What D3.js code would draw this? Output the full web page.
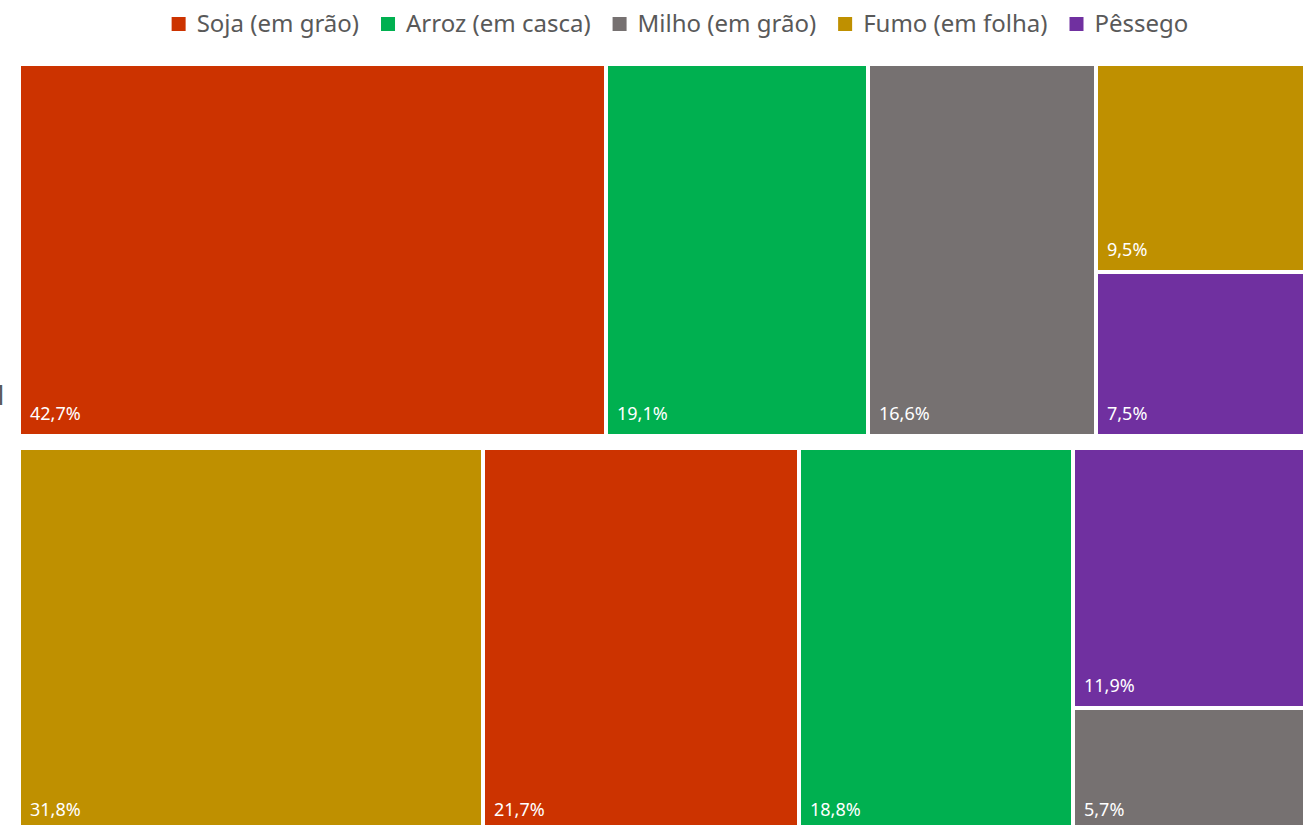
<!DOCTYPE html>
<html>
<head>
<meta charset="utf-8">
<script src="https://cdn.jsdelivr.net/npm/d3@7"></script>
<style>
  body { margin: 0; background: #fff; overflow: hidden; }
  svg { display: block; font-family: "Noto Sans", sans-serif; }
</style>
</head>
<body>
<div id="chart"></div>
<script>
// crops (legend order) and colours
const crops = ["Soja (em grão)", "Arroz (em casca)", "Milho (em grão)", "Fumo (em folha)", "Pêssego"];
const cropColors = ["#CC3300", "#00B050", "#767171", "#BF9000", "#7030A0"];

// the two groups, share of each crop (%)
const groups = ["2021", "2010"];
const groupTop = [42.7, 19.1, 16.6, 9.5, 7.5];
const groupBottom = [21.7, 18.8, 5.7, 31.8, 11.9];

const width = 1303, height = 825;

const svg = d3.select("#chart").append("svg")
    .attr("width", width)
    .attr("height", height);

const color = d3.scaleOrdinal().domain(crops).range(cropColors);
const fmt = v => d3.format(".1f")(v).replace(".", ",") + "%";

// each group gets its own band, laid out as a squarified treemap
const bands = [
    { name: groups[0], values: groupTop, x0: 21, y0: 66, x1: 1328, y1: 434 },
    { name: groups[1], values: groupBottom, x0: 21, y0: 450, x1: 1328, y1: 830 }
];

bands.forEach(band => {
    const root = d3.hierarchy({ children: crops.map((c, i) => ({ name: c, value: band.values[i] })) })
        .sum(d => d.value || 0)
        .sort((a, b) => b.value - a.value);

    d3.treemap()
        .tile(d3.treemapSquarify.ratio(1))
        .size([band.x1 - band.x0, band.y1 - band.y0])
        .paddingInner(4)
        .round(true)(root);

    const g = svg.append("g")
        .attr("transform", `translate(${band.x0}, ${band.y0})`);

    const cells = g.selectAll("g.cell")
        .data(root.leaves())
        .enter()
        .append("g")
        .attr("class", "cell");

    cells.append("rect")
        .attr("x", d => d.x0)
        .attr("y", d => d.y0)
        .attr("width", d => d.x1 - d.x0)
        .attr("height", d => d.y1 - d.y0)
        .attr("fill", d => color(d.data.name));

    cells.append("text")
        .attr("x", d => d.x0 + 9)
        .attr("y", d => d.y1 - 14)
        .attr("fill", "#fff")
        .attr("font-size", "18px")
        .text(d => fmt(d.data.value));
});

// group label, mostly cut off at the left edge
svg.append("text")
    .attr("x", 8)
    .attr("y", 405)
    .attr("text-anchor", "end")
    .attr("fill", "#595959")
    .attr("font-size", "27px")
    .text(groups[0]);

// legend, centred on top
const legend = svg.append("g");
const items = legend.selectAll("g")
    .data(crops)
    .enter()
    .append("g");

items.append("rect")
    .attr("width", 14)
    .attr("height", 14)
    .attr("y", 17)
    .attr("fill", d => color(d));

items.append("text")
    .attr("x", 25)
    .attr("y", 32)
    .attr("fill", "#595959")
    .attr("font-size", "24px")
    .text(d => d);

let pos = 0;
items.each(function () {
    const w = d3.select(this).select("text").node().getComputedTextLength();
    d3.select(this).attr("transform", `translate(${pos}, 0)`);
    pos += 25 + w + 22;
});
const legendWidth = pos - 22;
legend.attr("transform", `translate(${680 - legendWidth / 2}, 0)`);
</script>
</body>
</html>
